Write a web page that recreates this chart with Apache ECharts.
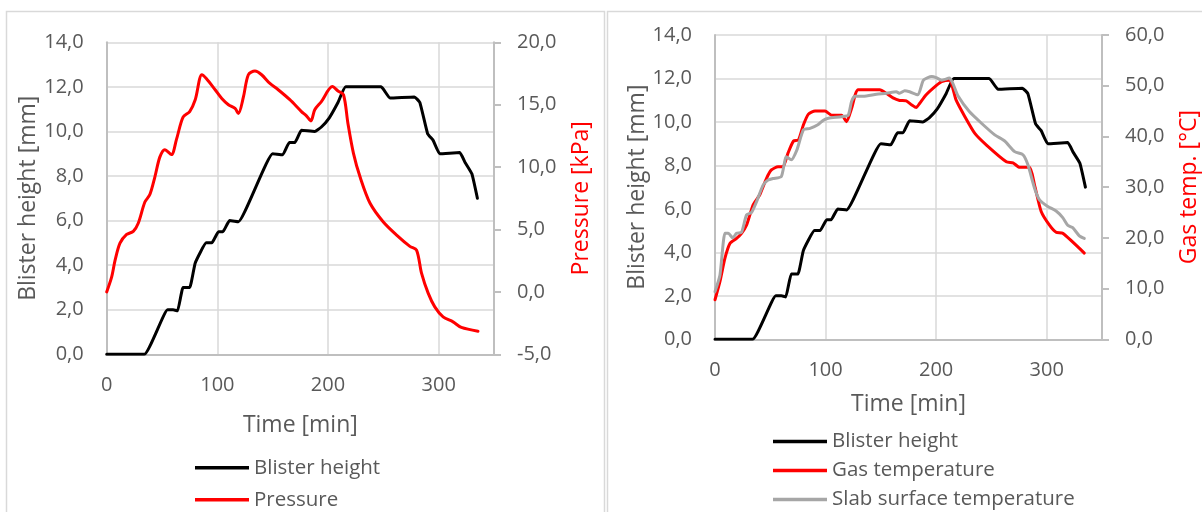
<!DOCTYPE html>
<html>
<head>
<meta charset="utf-8">
<script src="https://cdn.jsdelivr.net/npm/echarts@6/dist/echarts.min.js"></script>
<style>
  html, body { margin: 0; padding: 0; background: #ffffff; }
  #chart { width: 1202px; height: 512px; }
</style>
</head>
<body>
<div id="chart"></div>
<script>
// Blister height [mm] over time [min] (shared by both panels)
const blisterTime   = [0, 34, 55, 60, 64, 69, 75, 80, 90, 95, 101, 105, 111, 119, 150, 159, 165, 170, 176, 188, 194, 201, 209, 216, 248, 256, 278, 283, 290, 295, 301, 319, 324, 330, 335];
const blisterHeight = [0, 0, 2.0, 2.0, 1.95, 3.0, 3.0, 4.1, 5.0, 5.0, 5.5, 5.5, 6.0, 5.95, 9.0, 8.95, 9.5, 9.5, 10.05, 10.0, 10.2, 10.6, 11.3, 12.0, 12.0, 11.5, 11.55, 11.3, 9.9, 9.6, 9.0, 9.05, 8.6, 8.1, 7.0];

// Pressure [kPa]
const pressureTime = [0, 4.5, 7.5, 12, 18, 24, 28.5, 34.5, 39, 43.5, 48, 52.5, 58.5, 63, 69, 75, 80, 86, 90, 98, 104, 110, 116, 119, 123.5, 128, 134, 140, 147.5, 155, 165.5, 176, 180.5, 184.5, 188, 194, 204, 209, 214, 218, 223, 229, 238, 250, 262, 274, 280, 284.5, 290.5, 296.5, 304, 313, 320.5, 335.5];
const pressureKPa  = [0, 1.2, 2.5, 3.9, 4.6, 4.85, 5.5, 7.2, 7.8, 9.2, 10.8, 11.4, 11.0, 12.2, 14.0, 14.45, 15.4, 17.4, 17.1, 16.2, 15.5, 15.0, 14.7, 14.3, 15.6, 17.4, 17.7, 17.4, 16.7, 16.2, 15.4, 14.45, 14.1, 13.7, 14.6, 15.25, 16.45, 16.1, 15.8, 13.5, 11.1, 9.2, 7.1, 5.6, 4.55, 3.65, 3.35, 1.5, -0.1, -1.2, -2.0, -2.4, -2.85, -3.15];

// Gas temperature [°C]
const gasTime = [0, 4.5, 9, 13.5, 19.5, 24, 28.5, 34.5, 40.5, 46.5, 51, 57, 61.5, 66, 71, 75.5, 80, 84.5, 90.5, 99.5, 105.5, 114.5, 119, 123.5, 129.5, 149, 155, 161, 167, 173, 178, 182, 185, 191, 200, 205, 212, 218, 226, 235, 245.5, 263.5, 269.5, 275.5, 284.5, 289, 295, 302.5, 308.5, 314.5, 334];
const gasTemp = [7.8, 11.4, 16.0, 18.9, 19.9, 20.9, 22.5, 26.5, 28.5, 31.7, 33.4, 34.0, 34.0, 36.7, 39.1, 39.3, 42.3, 44.4, 45.0, 45.0, 44.2, 44.2, 42.9, 45.5, 49.2, 49.2, 48.5, 47.6, 47.1, 47.0, 46.2, 45.7, 46.5, 48.2, 50.0, 50.8, 51.1, 47.2, 43.9, 40.6, 38.3, 35.0, 34.8, 33.9, 33.9, 30.4, 25.2, 22.5, 21.1, 20.9, 17.0];

// Slab surface temperature [°C]
const slabTime = [0, 4.5, 9, 12, 16, 19.5, 24, 28.5, 33, 37.5, 43.5, 48, 52.5, 60, 64.5, 69, 74, 80, 86, 93, 98, 102.5, 114.5, 120.5, 123.5, 126.5, 134, 146, 155, 164, 167, 171.5, 176, 183.5, 188.5, 196, 200, 205, 212, 215, 220, 230, 241, 253, 262, 271, 278.5, 283, 289, 293.5, 301, 308.5, 314.5, 319, 323.5, 329.5, 334];
const slabTemp = [9.4, 12.7, 20.9, 20.9, 20.0, 20.9, 21.1, 24.5, 25.0, 27.1, 30.4, 31.4, 31.7, 32.1, 36.0, 35.4, 37.3, 41.3, 41.6, 42.3, 43.2, 43.6, 43.9, 44.2, 46.9, 47.9, 47.9, 48.3, 48.5, 48.8, 48.5, 49.0, 48.8, 48.2, 51.1, 51.8, 51.6, 51.1, 51.5, 50.5, 47.9, 44.9, 42.6, 40.3, 39.1, 37.0, 36.4, 34.4, 29.8, 27.5, 26.2, 25.3, 24.0, 22.5, 22.0, 20.4, 19.9];

const FONT = '"Open Sans", "Noto Sans", sans-serif';
const TEXT = '#595959';
const GRID_LINE = '#d9d9d9';
const AXIS_LINE = '#bfbfbf';

const pairs = (xs, ys) => xs.map((x, i) => [x, ys[i]]);
const comma1 = v => v.toFixed(1).replace('.', ',');

function timeAxis(gridIndex, nameGap) {
  return {
    gridIndex, type: 'value', min: 0, max: 350, interval: 100,
    axisLine: { show: true, onZero: false, lineStyle: { color: AXIS_LINE, width: 2 } },
    axisTick: { show: false },
    axisLabel: { showMaxLabel: false, margin: 21, color: TEXT, fontSize: 20, fontFamily: FONT },
    splitLine: { show: true, lineStyle: { color: GRID_LINE, width: 1.5 } },
    name: 'Time [min]', nameLocation: 'middle', nameGap,
    nameTextStyle: { color: TEXT, fontSize: 23, fontFamily: FONT }
  };
}

function leftAxis(gridIndex) {
  return {
    gridIndex, type: 'value', position: 'left', min: 0, max: 14, interval: 2,
    axisLine: { show: true, lineStyle: { color: AXIS_LINE, width: 2 } },
    axisTick: { show: false },
    axisLabel: { margin: 23, color: TEXT, fontSize: 20, fontFamily: FONT, formatter: comma1 },
    splitLine: { show: true, lineStyle: { color: GRID_LINE, width: 1.5 } },
    name: 'Blister height [mm]', nameLocation: 'middle', nameRotate: 90, nameGap: 64,
    nameTextStyle: { color: TEXT, fontSize: 23, fontFamily: FONT }
  };
}

function rightAxis(gridIndex, min, max, interval, name) {
  return {
    gridIndex, type: 'value', position: 'right', min, max, interval,
    axisLine: { show: true, lineStyle: { color: AXIS_LINE, width: 2 } },
    axisTick: { show: true, length: 7, lineStyle: { color: AXIS_LINE, width: 2 } },
    axisLabel: { margin: 23, color: TEXT, fontSize: 20, fontFamily: FONT, formatter: comma1 },
    splitLine: { show: false },
    name, nameLocation: 'middle', nameRotate: 90, nameGap: 76,
    nameTextStyle: { color: '#ff0000', fontSize: 23, fontFamily: FONT }
  };
}

function lineSeries(name, data, xAxisIndex, yAxisIndex, color, z, smooth) {
  return {
    type: 'line', name, data, xAxisIndex, yAxisIndex, z,
    symbol: 'none', smooth,
    lineStyle: { color, width: 3, cap: 'round', join: 'round' },
    itemStyle: { color }
  };
}

const legendText = { color: TEXT, fontSize: 20.5, fontFamily: FONT, lineHeight: 20 };

const option = {
  animation: false,
  backgroundColor: '#ffffff',
  graphic: [
    { type: 'rect', silent: true, shape: { x: 6.5, y: 11.5, width: 598, height: 530 },
      style: { fill: 'none', stroke: GRID_LINE, lineWidth: 1.5 } },
    { type: 'rect', silent: true, shape: { x: 607.5, y: 11.5, width: 600, height: 530 },
      style: { fill: 'none', stroke: GRID_LINE, lineWidth: 1.5 } }
  ],
  grid: [
    { left: 106.7, top: 42.3, width: 387.3, height: 312 },
    { left: 715, top: 35, width: 387.3, height: 304.3 }
  ],
  xAxis: [timeAxis(0, 60), timeAxis(1, 54)],
  yAxis: [
    leftAxis(0),
    rightAxis(0, -5, 20, 5, 'Pressure [kPa]'),
    leftAxis(1),
    rightAxis(1, 0, 60, 10, 'Gas temp. [°C]')
  ],
  legend: [
    { data: ['Blister height', 'Pressure'], orient: 'vertical', left: 195, top: 457.3, padding: 0,
      icon: 'rect', itemWidth: 54, itemHeight: 3.5, itemGap: 11, textStyle: legendText },
    { data: ['Blister height', 'Gas temperature', 'Slab surface temperature'], orient: 'vertical', left: 773, top: 431, padding: 0,
      icon: 'rect', itemWidth: 54, itemHeight: 3.5, itemGap: 8, textStyle: legendText }
  ],
  series: [
    lineSeries('Blister height', pairs(blisterTime, blisterHeight), 0, 0, '#000000', 2, 0.12),
    lineSeries('Pressure', pairs(pressureTime, pressureKPa), 0, 1, '#ff0000', 3, 0.3),
    lineSeries('Blister height', pairs(blisterTime, blisterHeight), 1, 2, '#000000', 2, 0.12),
    lineSeries('Gas temperature', pairs(gasTime, gasTemp), 1, 3, '#ff0000', 3, 0.2),
    lineSeries('Slab surface temperature', pairs(slabTime, slabTemp), 1, 3, '#a6a6a6', 4, 0.2)
  ]
};

const chart = echarts.init(document.getElementById('chart'), null, { renderer: 'canvas' });
chart.setOption(option);
</script>
</body>
</html>
